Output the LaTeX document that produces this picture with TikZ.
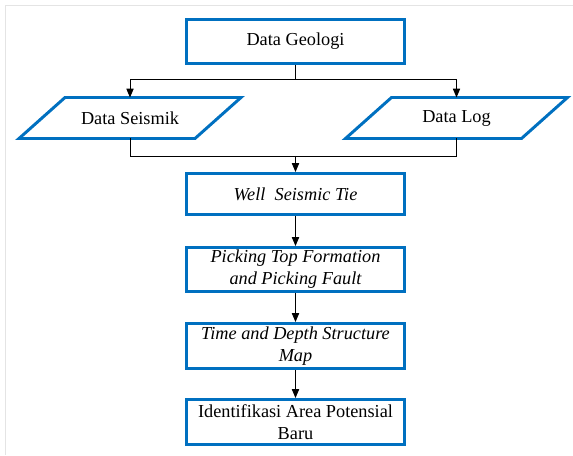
\documentclass[tikz,border=0pt]{standalone}
\usepackage{fontspec}
\setmainfont{Liberation Serif}
\usetikzlibrary{arrows.meta}
\definecolor{boxblue}{RGB}{0,112,192}
\definecolor{framegray}{RGB}{228,228,228}

\begin{document}
\begin{tikzpicture}[>={Triangle[length=2.2mm,width=1.8mm]},
    font=\fontsize{13}{15.5}\selectfont,
    stepbox/.style={draw=boxblue, line width=2.1pt, fill=white, align=center,
        minimum width=5.45cm, minimum height=1.1cm, inner sep=1pt},
    databox/.style={minimum width=4.4cm, minimum height=1.025cm, inner sep=0pt, outer sep=0pt},
    dataline/.style={draw=boxblue, line width=2.1pt, line join=miter},
    link/.style={line width=0.7pt}]
    \useasboundingbox (0,0) rectangle (14.325,11.375);
    \draw[framegray, line width=0.7pt] (0.125,0) -- (0.125,11.25) -- (14.325,11.25);

    \node[stepbox] (geo) at (7.3875,10.3375) {Data Geologi};
    \node[databox] (seis) at (3.25,8.425) {Data Seismik};
    \node[databox] (log) at (11.4125,8.425) {Data Log};
    \node[stepbox, minimum height=1.025cm] (well) at (7.3875,6.525) {\itshape Well\ \ Seismic Tie};
    \node[stepbox] (pick) at (7.3875,4.6375) {\itshape Picking Top Formation\\ \itshape and Picking Fault};
    \node[stepbox, minimum height=1.125cm] (time) at (7.3875,2.725) {\itshape Time and Depth Structure\\ \itshape Map};
    \node[stepbox, minimum height=1.125cm] (ident) at (7.3875,0.825) {Identifikasi Area Potensial\\ Baru};

    % slanted outline of the data boxes
    \foreach \n in {seis,log}
        \draw[dataline] ([xshift=5.75mm]\n.north west) -- ([xshift=5.75mm]\n.north east)
            -- ([xshift=-5.75mm]\n.south east) -- ([xshift=-5.75mm]\n.south west) -- cycle;

    \coordinate (split) at (7.3875,9.4);
    \coordinate (merge) at (7.3875,7.475);

    \draw[link] (geo.south) -- (split);
    \draw[link, ->] (split) -| (seis.north);
    \draw[link, ->] (split) -| (log.north);
    \draw[link] (seis.south) |- (merge);
    \draw[link] (log.south) |- (merge);
    \draw[link, ->] (merge) -- (well.north);
    \draw[link, ->] (well) -- (pick);
    \draw[link, ->] (pick) -- (time);
    \draw[link, ->] (time) -- (ident);
\end{tikzpicture}
\end{document}
